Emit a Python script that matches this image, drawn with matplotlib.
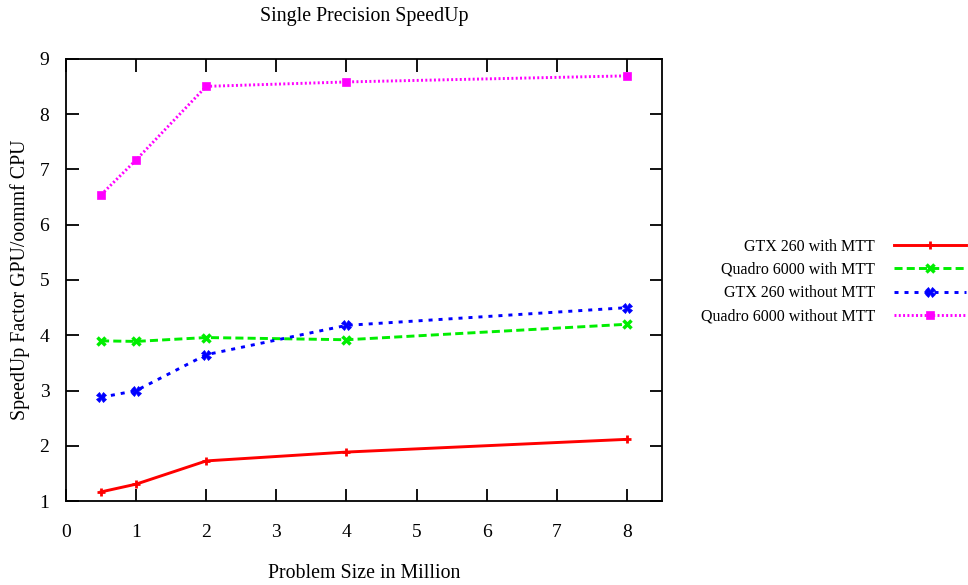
import matplotlib
matplotlib.use("Agg")
import matplotlib.pyplot as plt

plt.rcParams['font.family'] = ['Liberation Serif', 'DejaVu Serif']
plt.rcParams['lines.scale_dashes'] = False

problemSize = [0.5, 1, 2, 4, 8]
seriesNames = ["GTX 260 with MTT", "Quadro 6000 with MTT",
               "GTX 260 without MTT", "Quadro 6000 without MTT"]
gtxWithMtt       = [1.17, 1.31, 1.73, 1.89, 2.12]
quadroWithMtt    = [3.90, 3.89, 3.96, 3.92, 4.20]
gtxWithoutMtt    = [2.88, 3.00, 3.65, 4.18, 4.50]
quadroWithoutMtt = [6.54, 7.17, 8.50, 8.58, 8.69]
xTicks = [0, 1, 2, 3, 4, 5, 6, 7, 8]
yTicks = [1, 2, 3, 4, 5, 6, 7, 8, 9]

styles = [
    dict(color="#ff0000", linestyle="-", marker="+", markersize=6, markeredgewidth=2),
    dict(color="#00ee00", linestyle=(0, (5.8, 3.0)), marker="x", markersize=5.5, markeredgewidth=2.5),
    dict(color="#0000ff", linestyle=(0, (2.9, 4.3)), marker="X", markersize=6.5, markeredgewidth=0.5),
    dict(color="#ff00ff", linestyle=(0, (1.4, 1.7)), marker="s", markersize=6, markeredgewidth=0.5),
]
allSeries = [gtxWithMtt, quadroWithMtt, gtxWithoutMtt, quadroWithoutMtt]

fig = plt.figure(figsize=(9.68, 5.85), dpi=100)
ax = fig.add_axes([66/968, 1-501.3/585, (662-66)/968, (501.3-58.7)/585])

for name, values, style in zip(seriesNames, allSeries, styles):
    ax.plot(problemSize, values, label=name, linewidth=2.1, **style)

ax.set_xlim(0, 8.5)
ax.set_ylim(1, 9)
ax.set_xticks(xTicks)
ax.set_yticks(yTicks)
ax.tick_params(direction="in", length=9, width=1.3, top=True, right=True, labelsize=14)
ax.tick_params(axis="x", pad=16)
ax.tick_params(axis="y", pad=12)
for spine in ax.spines.values():
    spine.set_linewidth(1.3)

fig.text(364/968, 1-17/585, "Single Precision SpeedUp", ha="center", va="center", fontsize=14.3)
fig.text(364/968, 1-574/585, "Problem Size in Million", ha="center", va="center", fontsize=14.3)
fig.text(20/968, 1-280/585, "SpeedUp Factor GPU/oommf CPU", ha="center", va="center",
         rotation=90, fontsize=14.3)

ax.legend(loc="center right", bbox_to_anchor=(966/968, 1-281.5/585), bbox_transform=fig.transFigure,
          frameon=False, markerfirst=False, numpoints=1, handlelength=4.5, handletextpad=1.2,
          labelspacing=0.45, borderpad=0, borderaxespad=0, fontsize=11.5)

fig.savefig("out.png", dpi=100)
